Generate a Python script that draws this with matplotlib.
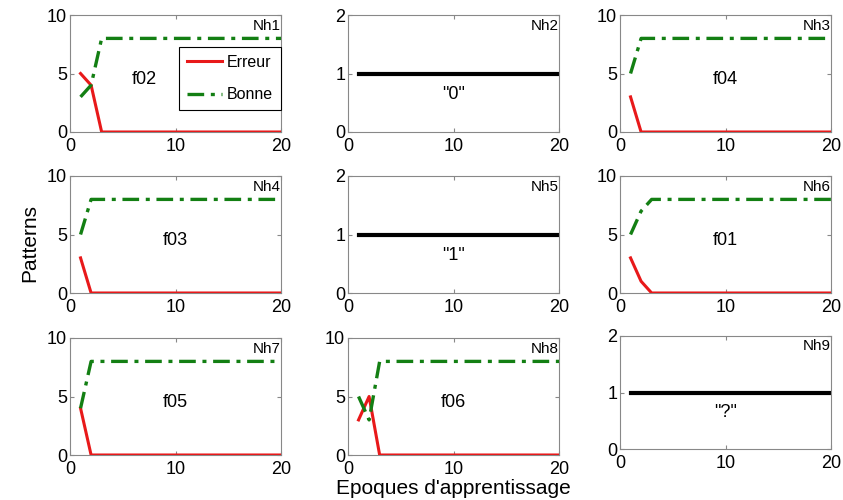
import numpy as np
import matplotlib
matplotlib.use("Agg")
import matplotlib.pyplot as plt

plt.rcParams['font.family'] = ['Liberation Sans', 'DejaVu Sans']

# epochs 1..20
epochs = np.arange(1, 21)

# curves (first points, then flat)
erreur = {
    "Nh1": [5, 4, 0],
    "Nh3": [3, 0],
    "Nh4": [3, 0],
    "Nh6": [3, 1, 0],
    "Nh7": [4, 0],
    "Nh8": [3, 5, 0],
}
bonne = {
    "Nh1": [3, 4, 8],
    "Nh3": [5, 8],
    "Nh4": [5, 8],
    "Nh6": [5, 7, 8],
    "Nh7": [4, 8],
    "Nh8": [5, 3, 8],
}
final_err = 0
final_bonne = 8
const_val = 1

names = ["Nh1", "Nh2", "Nh3", "Nh4", "Nh5", "Nh6", "Nh7", "Nh8", "Nh9"]
inner = ["f02", '"0"', "f04", "f03", '"1"', "f01", "f05", "f06", '"?"']


def full(start, last):
    return np.array(start + [last] * (len(epochs) - len(start)), dtype=float)


W, H = 843, 500
fig = plt.figure(figsize=(W / 100, H / 100), dpi=100)

lefts = [70, 348, 620]
tops = [15, 176, 338]
aw, ah = 211, 117

for i, name in enumerate(names):
    r, c = divmod(i, 3)
    top = tops[r]
    h = ah
    if name == "Nh9":
        top, h = 336, 113
    ax = fig.add_axes([lefts[c] / W, 1 - (top + h) / H, aw / W, h / H])
    if name in erreur:
        ax.plot(epochs, full(erreur[name], final_err), color="#e8191a", lw=2.2,
                label="Erreur", zorder=3)
        ax.plot(epochs, full(bonne[name], final_bonne), color="#137f13", lw=2.4,
                ls=(0, (5, 2, 1.2, 2)), label="Bonne", zorder=3)
        ax.set_ylim(0, 10)
        ax.set_yticks([0, 5, 10])
        lx = 0.35 if name == "Nh1" else 0.5
        ax.text(lx, 0.45, inner[i], transform=ax.transAxes, ha="center",
                va="center", fontsize=13)
    else:
        ax.plot(epochs, np.full(len(epochs), const_val), color="black", lw=3)
        ax.set_ylim(0, 2)
        ax.set_yticks([0, 1, 2])
        ax.text(0.5, 0.32, inner[i], transform=ax.transAxes, ha="center",
                va="center", fontsize=13)
    ax.set_xlim(0, 20)
    ax.set_xticks([0, 10, 20])
    ax.text(1.0, 0.91, name, transform=ax.transAxes, ha="right",
            va="center", fontsize=11)
    for s in ax.spines.values():
        s.set_color("#888888")
        s.set_linewidth(0.8)
    ax.tick_params(direction="in", length=3, color="#888888", labelsize=13,
                   top=True, right=True, labeltop=False, labelright=False)
    ax.tick_params(axis="x", pad=4)
    ax.tick_params(axis="y", pad=2)
    if name == "Nh1":
        leg = ax.legend(loc="upper right", bbox_to_anchor=(1.0, 0.73), fontsize=11.5,
                        fancybox=False, framealpha=1, edgecolor="black",
                        handlelength=2.2, handletextpad=0.3, borderpad=0.5,
                        labelspacing=1.1, borderaxespad=0)
        leg.get_frame().set_linewidth(0.8)

fig.text(30 / W, 1 - 243 / H, "Patterns", rotation=90, ha="center",
         va="center", fontsize=15)
fig.text(453 / W, 1 - 488 / H, "Epoques d'apprentissage", ha="center",
         va="center", fontsize=15)

fig.savefig("out.png", dpi=100)
